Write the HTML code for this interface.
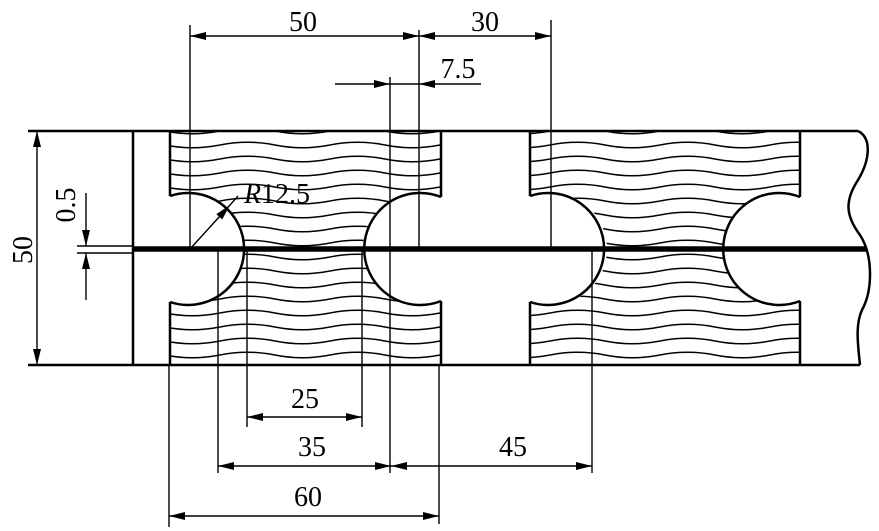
<!DOCTYPE html>
<html><head><meta charset="utf-8"><style>html,body{margin:0;padding:0;background:#fff}svg{display:block}</style></head>
<body>
<svg width="879" height="531" viewBox="0 0 879 531" xmlns="http://www.w3.org/2000/svg">
<defs>
<pattern id="wv" x="0" y="138" width="110" height="14" patternUnits="userSpaceOnUse">
<path d="M0,7 Q27.5,1.5 55,7 T110,7" fill="none" stroke="#000" stroke-width="1.5"/>
</pattern>
<mask id="m1" maskUnits="userSpaceOnUse" x="0" y="0" width="879" height="531"><rect x="170" y="131" width="271" height="234" fill="#fff"/><circle cx="189" cy="249" r="56" fill="#000"/><circle cx="419" cy="249" r="56" fill="#000"/></mask>
<mask id="m2" maskUnits="userSpaceOnUse" x="0" y="0" width="879" height="531"><rect x="530" y="131" width="270" height="234" fill="#fff"/><circle cx="551" cy="249" r="56" fill="#000"/><circle cx="779" cy="249" r="56" fill="#000"/></mask>
<marker id="a" viewBox="0 0 16 8" refX="16" refY="4" markerWidth="16" markerHeight="8" markerUnits="userSpaceOnUse" orient="auto-start-reverse"><path d="M0,0 L16,4 L0,8 z" fill="#000"/></marker>
</defs>
<rect x="170" y="131" width="271" height="234" fill="url(#wv)" mask="url(#m1)"/>
<rect x="530" y="131" width="270" height="234" fill="url(#wv)" mask="url(#m2)"/>
<g fill="none" stroke="#000" stroke-width="2.5">
<path d="M28,131 H858"/><path d="M28,365 H860"/>
<path d="M133,131 V365"/>
<path d="M858,131 C872,138 870,160 858,180 C845,200 845,215 860,235 C873,255 873,290 862,310 C855,325 858,345 860,365"/>
<path d="M170,131 V196 M170,302 V365 M441,131 V197 M441,301 V365"/>
<path d="M530,131 V196 M530,302 V365 M800,131 V197 M800,301 V365"/>
<path d="M170,196 A56,56 0 1 1 170,302"/>
<path d="M441,197 A56,56 0 1 0 441,301"/>
<path d="M530,196 A56,56 0 1 1 530,302"/>
<path d="M800,197 A56,56 0 1 0 800,301"/>
</g>
<path d="M133,249 H866" stroke="#000" stroke-width="5.5"/>
<g fill="none" stroke="#000" stroke-width="1.4">
<path d="M190,25 V249 M419,30 V249 M551,20 V249 M390,77 V473"/>
<path d="M218,249 V473 M247,249 V427 M362,249 V427 M592,249 V473 M169,365 V527 M439,365 V524"/>
<path d="M190,36 H419" marker-start="url(#a)" marker-end="url(#a)"/>
<path d="M419,36 H551" marker-start="url(#a)" marker-end="url(#a)"/>
<path d="M335,84 H390" marker-end="url(#a)"/>
<path d="M481,84 H419" marker-end="url(#a)"/>
<path d="M390,84 H419"/>
<path d="M247,417 H362" marker-start="url(#a)" marker-end="url(#a)"/>
<path d="M218,466 H391" marker-start="url(#a)" marker-end="url(#a)"/>
<path d="M391,466 H592" marker-start="url(#a)" marker-end="url(#a)"/>
<path d="M169,516 H439" marker-start="url(#a)" marker-end="url(#a)"/>
<path d="M37,131 V365" marker-start="url(#a)" marker-end="url(#a)"/>
<path d="M77,246 H133 M77,253 H133"/>
<path d="M86,193 V246" marker-end="url(#a)"/>
<path d="M86,300 V253" marker-end="url(#a)"/>
<path d="M190,249 L230,205" marker-end="url(#a)"/>
<path d="M230,205 L238,196"/>
</g>
<g font-family="Liberation Serif, serif" font-size="28" fill="#000" text-anchor="middle">
<text x="303" y="31">50</text>
<text x="485" y="31">30</text>
<text x="458" y="78">7.5</text>
<text x="305" y="408">25</text>
<text x="312" y="456">35</text>
<text x="513" y="456">45</text>
<text x="308" y="506">60</text>
<text x="277" y="203"><tspan font-style="italic">R</tspan>12.5</text>
<text transform="translate(32,250) rotate(-90)">50</text>
<text transform="translate(75,205) rotate(-90)">0.5</text>
</g>
</svg>
</body></html>
